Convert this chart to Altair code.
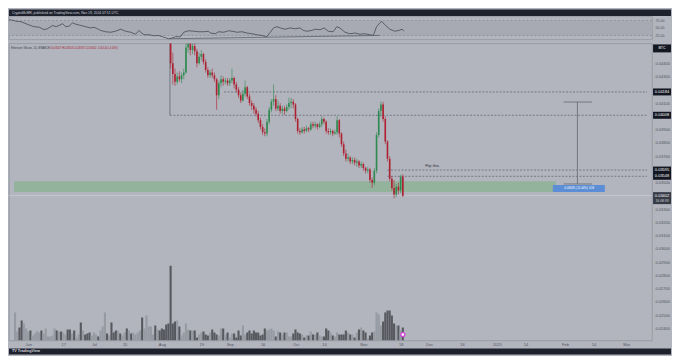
import altair as alt
import pandas as pd

# ---------------- data ----------------
# Daily ETH/BTC candles, first candle = 2024-08-01 (day 61 after 2024-06-01)
candle_start_day = 61
first_open = 0.0520
closes = [0.0505, 0.0490, 0.0475, 0.0462, 0.0440, 0.0432, 0.0426, 0.0430, 0.0428, 0.0431,
          0.0433, 0.0452, 0.0455, 0.0450, 0.0453, 0.0449, 0.0440, 0.0445, 0.0447, 0.0441,
          0.0435, 0.0431, 0.0433, 0.0431, 0.0428, 0.0416, 0.0425, 0.0428, 0.0426, 0.0427,
          0.0425, 0.0427, 0.0429, 0.0424, 0.0420, 0.0416, 0.0412, 0.0417, 0.0422, 0.0415,
          0.0410, 0.0408, 0.0405, 0.0402, 0.0397, 0.0392, 0.0388, 0.0387, 0.0396, 0.0405,
          0.0411, 0.0413, 0.0406, 0.0408, 0.0404, 0.0406, 0.0404, 0.0407, 0.0410, 0.0411,
          0.0409, 0.0398, 0.0389, 0.0388, 0.0390, 0.0389, 0.0391, 0.0390, 0.0394, 0.0393,
          0.0394, 0.0392, 0.0394, 0.0398, 0.0396, 0.0389, 0.0388, 0.0389, 0.0387, 0.0388,
          0.0397, 0.0387, 0.0379, 0.0372, 0.0368, 0.0369, 0.0366, 0.0367, 0.0365, 0.0366,
          0.0363, 0.0364, 0.0361, 0.0359, 0.0360, 0.0352, 0.0350, 0.0359, 0.0386, 0.0404,
          0.0409, 0.0398, 0.0381, 0.0368, 0.0353, 0.0346, 0.0341, 0.0347, 0.0344, 0.03546,
          0.03402]
highs = [0.0525, 0.0508, 0.0493, 0.0478, 0.0466, 0.0448, 0.0436, 0.0433, 0.0434, 0.0433,
         0.0436, 0.0456, 0.0462, 0.0460, 0.0458, 0.0456, 0.0451, 0.0448, 0.0450, 0.0448,
         0.0443, 0.0437, 0.0435, 0.0436, 0.0433, 0.0429, 0.0427, 0.0431, 0.0430, 0.0429,
         0.0429, 0.0429, 0.0436, 0.0430, 0.0426, 0.0422, 0.0418, 0.0420, 0.0427, 0.0423,
         0.0417, 0.0412, 0.0410, 0.0407, 0.0404, 0.0399, 0.0394, 0.0391, 0.0398, 0.0407,
         0.0413, 0.0424, 0.0416, 0.0412, 0.0410, 0.0408, 0.0408, 0.0409, 0.0414, 0.0414,
         0.0413, 0.0410, 0.0399, 0.0391, 0.0392, 0.0392, 0.0393, 0.0392, 0.0396, 0.0396,
         0.0396, 0.0395, 0.0396, 0.0400, 0.0399, 0.0397, 0.0391, 0.0391, 0.0390, 0.0390,
         0.0400, 0.0398, 0.0388, 0.0381, 0.0375, 0.0372, 0.0370, 0.0369, 0.0369, 0.0368,
         0.0367, 0.0366, 0.0365, 0.0362, 0.0362, 0.0361, 0.0354, 0.0361, 0.0388, 0.0406,
         0.0411, 0.0411, 0.0400, 0.0382, 0.0370, 0.0355, 0.0352, 0.0349, 0.0350, 0.0356,
         0.03563]
lows = [0.0500, 0.0486, 0.0470, 0.0458, 0.0436, 0.0424, 0.0423, 0.0424, 0.0426, 0.0425,
        0.0428, 0.0432, 0.0448, 0.0446, 0.0447, 0.0446, 0.0437, 0.0439, 0.0442, 0.0439,
        0.0433, 0.0429, 0.0429, 0.0429, 0.0426, 0.0405, 0.0413, 0.0422, 0.0423, 0.0424,
        0.0423, 0.0423, 0.0425, 0.0421, 0.0418, 0.0414, 0.0410, 0.0411, 0.0415, 0.0413,
        0.0408, 0.0405, 0.0402, 0.0400, 0.0395, 0.0390, 0.0386, 0.0385, 0.0385, 0.0394,
        0.0403, 0.0408, 0.0404, 0.0404, 0.0402, 0.0402, 0.0401, 0.0403, 0.0405, 0.0406,
        0.0406, 0.0396, 0.0387, 0.0386, 0.0387, 0.0387, 0.0388, 0.0388, 0.0389, 0.0391,
        0.0391, 0.0390, 0.0391, 0.0392, 0.0394, 0.0387, 0.0386, 0.0386, 0.0385, 0.0386,
        0.0386, 0.0384, 0.0377, 0.0370, 0.0366, 0.0366, 0.0364, 0.0364, 0.0363, 0.0362,
        0.0361, 0.0361, 0.0359, 0.0357, 0.0357, 0.0350, 0.0346, 0.0348, 0.0357, 0.0384,
        0.0400, 0.0396, 0.0379, 0.0366, 0.0351, 0.0344, 0.0338, 0.0339, 0.0341, 0.0342,
        0.03392]

# Daily volume (relative units), first bar = day -6 (2024-05-26), last = 2024-11-19
volume_start_day = -6
volumes = [28, 9, 13, 20, 17, 12, 9, 10, 5, 7,
           9, 8, 10, 7, 12, 4, 4, 5, 12, 10,
           9, 9, 8, 6, 11, 11, 7, 10, 3, 6,
           18, 10, 6, 7, 8, 5, 8, 6, 4, 10,
           14, 28, 7, 5, 18, 8, 10, 10, 7, 5,
           8, 12, 10, 7, 8, 6, 8, 10, 23, 12,
           25, 14, 14, 6, 15, 11, 10, 12, 11, 16,
           17, 75, 17, 19, 20, 14, 5, 8, 17, 11,
           10, 10, 10, 3, 6, 8, 9, 6, 5, 8,
           11, 8, 6, 5, 12, 12, 6, 8, 3, 7,
           7, 3, 10, 5, 15, 6, 8, 10, 7, 10,
           8, 8, 5, 6, 12, 10, 11, 12, 10, 4,
           9, 8, 6, 8, 8, 4, 4, 7, 11, 8,
           7, 6, 3, 5, 5, 9, 6, 6, 8, 5, 4,
           4, 12, 10, 8, 5, 4, 8, 6, 6, 6,
           10, 8, 6, 6, 3, 8, 11, 13, 10, 8,
           2, 5, 8, 9, 28, 26, 15, 19, 28, 30,
           30, 25, 17, 15, 15, 10, 13]
# up / down days before the visible candles (u = up, d = down)
volume_dir_before = ("uudduuuduu" "uuduuuuuud" "uduudduduu" "duddduuudu"
                     "uududddudu" "ududuuuudu" "uuuudud")

# RSI (days after 2024-06-01, value)
rsi_days = [-8.6, -7.1, -4.8, -3.4, -1.1, 1.1, 3.4, 4.8, 7.1, 9.3,
            10.8, 13.1, 14.6, 16.0, 17.6, 19.0, 20.5, 22.0, 23.5, 25.8,
            28.0, 30.2, 31.7, 33.2, 34.7, 36.9, 39.2, 41.4, 43.7, 45.9,
            48.2, 50.4, 51.9, 54.1, 56.4, 58.6, 60.8, 63.1, 65.3, 66.8,
            68.3, 70.6, 72.0, 74.3, 76.5, 78.8, 81.0, 83.2,
            84.0, 86.2, 87.7, 90.0, 92.2, 93.7, 96.0, 98.2, 100.4, 102.7,
            104.9, 107.2, 109.4, 110.9, 112.4, 113.9, 115.4, 117.6, 119.8, 122.1,
            124.3, 125.8, 127.3, 129.6, 131.1, 133.3, 135.1, 137.0, 139.2, 140.8,
            142.2, 144.5, 146.7, 149.0, 151.2, 153.4, 155.7, 157.2, 158.7, 160.9,
            162.4, 164.6, 166.9, 168.7, 170.2, 171.0]
rsi_vals = [75.8, 77.5, 75.8, 72.5, 70.8, 64.2, 57.5, 54.2, 52.5, 44.2,
            47.5, 58.3, 54.2, 58.3, 64.2, 54.2, 55.8, 66.7, 62.5, 58.3,
            54.2, 50.0, 52.5, 47.5, 41.7, 37.5, 35.8, 39.2, 45.8, 39.2,
            35.8, 29.2, 41.7, 27.5, 27.5, 24.2, 25.0, 19.2, 14.2, 16.7,
            20.8, 20.8, 35.8, 40.8, 39.2, 37.5, 37.5, 39.2,
            33.3, 30.8, 37.5, 35.8, 40.8, 39.2, 35.8, 37.5, 33.3, 30.8,
            27.5, 25.0, 20.8, 35.8, 50.0, 54.2, 50.0, 45.8, 50.0, 47.5,
            50.0, 41.7, 39.2, 41.7, 45.8, 44.2, 50.0, 39.2, 37.5, 54.2,
            50.0, 35.8, 30.8, 33.3, 29.2, 30.8, 27.5, 25.0, 54.2, 72.5,
            60.8, 45.8, 39.2, 41.7, 45.8, 39.2]
rsi_trend_days = [65.3, 160.0]
rsi_trend_vals = [14.2, 25.2]
rsi_levels = [25, 75]
rsi_ticks = [25, 50, 75]

# drawings
level_prices = [0.04184, 0.04008, 0.03595, 0.03548]
level_start_days = [89.4, 64.7, 164.0, 164.0]
box_line_day = 64.7
zone_low, zone_high, zone_end_day = 0.0343, 0.03511, 240.8
measure_day, measure_top, measure_bottom = 250.7, 0.04108, 0.03490
measure_cap_days = [244.4, 257.4]
measure_box_days = [239.5, 263.2]
measure_box_prices = [0.03430, 0.03483]
measure_text = "-0.00618 (-15.04%) -618"
note_day, note_price, note_text = 181.2, 0.03622, "Flip this."
last_close = 0.03402
countdown = "16:08:39"

price_ticks = [0.044, 0.043, 0.041, 0.039, 0.038, 0.037, 0.035, 0.033, 0.032,
               0.031, 0.030, 0.029, 0.028, 0.027, 0.026, 0.025, 0.024]
time_ticks = ["2024-06-01", "2024-06-17", "2024-07-01", "2024-07-15", "2024-08-01",
              "2024-08-19", "2024-09-01", "2024-09-16", "2024-10-01", "2024-10-14",
              "2024-11-01", "2024-11-18", "2024-12-01", "2024-12-16", "2025-01-01",
              "2025-01-14", "2025-02-01", "2025-02-14", "2025-03-01"]

title_text = "CryptoMcMR, published on TradingView.com, Nov 19, 2024 07:51 UTC"
legend_name = "Ethereum / Bitcoin, 1D, BINANCE"
legend_ohlc = "O0.03547 H0.03563 L0.03392 C0.03402 -0.00144 (-4.06%)"

# ---------------- helpers ----------------
BASE = pd.Timestamp("2024-06-01", tz="UTC")


def tstamp(d):
    return BASE + pd.Timedelta(days=float(d))


def iso(d):
    return tstamp(d).strftime("%Y-%m-%dT%H:%M:%SZ")


def ms(d):
    return int(tstamp(d).timestamp() * 1000)


W, H_MAIN, H_RSI = 645, 298, 23
FONT = "Liberation Sans"
BG = "#b2b5be"
DARK = "#1e222d"
GREEN, RED = "#2f8a4f", "#ad2131"
AXC = "#4f525b"

X_START, X_END = -6.5, 282.5
XS = alt.Scale(type="utc", domain=[ms(X_START), ms(X_END)], nice=False)
tick_ms = [int(pd.Timestamp(s, tz="UTC").timestamp() * 1000) for s in time_ticks]
label_expr = ("utcdate(datum.value) == 1 ? (utcmonth(datum.value) == 0 ? "
              "utcFormat(datum.value, '%Y') : utcFormat(datum.value, '%b')) : "
              "utcFormat(datum.value, '%-d')")
XAX = alt.Axis(values=tick_ms, labelExpr=label_expr, ticks=False, domain=False,
               grid=False, labelFontSize=4, labelColor=AXC, labelPadding=2,
               labelFont=FONT, labelOverlap=False, labelFlush=False, title=None)


def XT(f):
    return alt.X(f, type="temporal", scale=XS, axis=XAX)


def XR(f):
    return alt.X(f, type="temporal", scale=XS, axis=None)


PS = alt.Scale(domain=[0.0455 - H_MAIN / 13300.0, 0.0455], nice=False, zero=False)
PAX = alt.Axis(orient="right", values=price_ticks, format=".5f", ticks=False,
               domain=False, grid=False, labelFontSize=4, labelColor=AXC,
               labelPadding=3, labelFont=FONT, title=None)


def YP(f):
    return alt.Y(f, type="quantitative", scale=PS, axis=PAX)


RS = alt.Scale(domain=[12, 88], nice=False, zero=False)
RAX = alt.Axis(orient="right", values=rsi_ticks, format=".2f", ticks=False,
               domain=False, grid=False, labelFontSize=3.6, labelColor=AXC,
               labelPadding=3, labelFont=FONT, title=None)


def YR(f):
    return alt.Y(f, type="quantitative", scale=RS, axis=RAX)


one = pd.DataFrame({"k": [0]})

# ---------------- tables ----------------
n = len(closes)
opens = [first_open] + closes[:-1]
cdf = pd.DataFrame({
    "date": [iso(candle_start_day + i) for i in range(n)],
    "o": opens, "h": highs, "l": lows, "c": closes,
})
cdf["dir"] = ["up" if c >= o else "down" for o, c in zip(opens, closes)]
dir_by_day = {candle_start_day + i: d for i, d in enumerate(cdf["dir"])}

vdays = [volume_start_day + i for i in range(len(volumes))]
vdir = []
for i, d in enumerate(vdays):
    if d in dir_by_day:
        vdir.append(dir_by_day[d])
    else:
        vdir.append("down" if volume_dir_before[i] == "d" else "up")
vdf = pd.DataFrame({"date": [iso(d) for d in vdays], "v": volumes, "dir": vdir})

rdf = pd.DataFrame({"date": [iso(d) for d in rsi_days], "rsi": rsi_vals})
rtdf = pd.DataFrame({"date": [iso(d) for d in rsi_trend_days], "rsi": rsi_trend_vals})

# ---------------- RSI pane ----------------
rsi_band = alt.Chart(pd.DataFrame({"lo": [25], "hi": [75]})).mark_rect(color="#a7aab3").encode(
    x=alt.value(0), x2=alt.value(W), y=YR("lo"), y2="hi")
rsi_rules = alt.Chart(pd.DataFrame({"lvl": rsi_levels})).mark_rule(
    color="#7b7e88", strokeWidth=0.6, strokeDash=[2, 2]).encode(y=YR("lvl"))
rsi_line = alt.Chart(rdf).mark_line(color="#474a53", strokeWidth=0.8, clip=True).encode(
    x=XR("date"), y=YR("rsi"))
rsi_trend = alt.Chart(rtdf).mark_line(color="#5c5f69", strokeWidth=0.8, clip=True).encode(
    x=XR("date"), y=YR("rsi"))
top_bar = alt.Chart(one).mark_rect(color=DARK).encode(
    x=alt.value(0), x2=alt.value(W + 19), y=alt.value(-7), y2=alt.value(-0.5))
top_text = alt.Chart(one).mark_text(align="left", baseline="middle", color="#d1d4dc",
                                     fontSize=3.4, font=FONT).encode(
    x=alt.value(3), y=alt.value(-3.7), text=alt.value(title_text))

rsi_chart = alt.layer(rsi_band, rsi_rules, rsi_line, rsi_trend, top_bar, top_text).properties(
    width=W, height=H_RSI)

# ---------------- main pane ----------------
vol = alt.Chart(vdf).mark_bar(size=2.1, clip=True).encode(
    x=XT("date"),
    y=alt.Y("v:Q", scale=alt.Scale(domain=[0, H_MAIN], nice=False), axis=None),
    color=alt.Color("dir:N", scale=alt.Scale(domain=["up", "down"], range=["#969aa3", "#57595f"]),
                    legend=None))

zone = alt.Chart(pd.DataFrame({"x0": [iso(X_START)], "x1": [iso(zone_end_day)],
                               "lo": [zone_low], "hi": [zone_high]})).mark_rect(
    color="#4caf50", opacity=0.31, clip=True).encode(x=XT("x0"), x2="x1", y=YP("lo"), y2="hi")

close_line = alt.Chart(pd.DataFrame({"p": [last_close]})).mark_rule(
    color="#cdd0d6", strokeWidth=0.7).encode(y=YP("p"))

lev = alt.Chart(pd.DataFrame({"x0": [iso(d) for d in level_start_days],
                              "x1": [iso(X_END)] * len(level_prices),
                              "p": level_prices})).mark_rule(
    color="#5b5e68", strokeWidth=0.7, strokeDash=[2, 1.5], clip=True).encode(
    x=XT("x0"), x2="x1", y=YP("p"))

vline = alt.Chart(pd.DataFrame({"x": [iso(box_line_day)], "p0": [level_prices[1]],
                                "p1": [0.0455]})).mark_rule(
    color="#62656f", strokeWidth=0.8, clip=True).encode(x=XT("x"), y=YP("p0"), y2="p1")

ccol = alt.Color("dir:N", scale=alt.Scale(domain=["up", "down"], range=[GREEN, RED]), legend=None)
wicks = alt.Chart(cdf).mark_rule(strokeWidth=0.6, clip=True).encode(
    x=XT("date"), y=YP("l"), y2="h", color=ccol)
bodies = alt.Chart(cdf).mark_bar(size=1.6, clip=True).encode(
    x=XT("date"), y=YP("o"), y2="c", color=ccol)

m_vert = alt.Chart(pd.DataFrame({"x": [iso(measure_day)], "p0": [measure_bottom],
                                 "p1": [measure_top]})).mark_rule(
    color="#6d707a", strokeWidth=0.9).encode(x=XT("x"), y=YP("p0"), y2="p1")
m_caps = alt.Chart(pd.DataFrame({"x0": [iso(measure_cap_days[0])] * 2,
                                 "x1": [iso(measure_cap_days[1])] * 2,
                                 "p": [measure_top, measure_bottom]})).mark_rule(
    color="#6d707a", strokeWidth=0.9).encode(x=XT("x0"), x2="x1", y=YP("p"))
m_box = alt.Chart(pd.DataFrame({"x0": [iso(measure_box_days[0])], "x1": [iso(measure_box_days[1])],
                                "lo": [measure_box_prices[0]], "hi": [measure_box_prices[1]]})).mark_rect(
    color="#5b8ed6").encode(x=XT("x0"), x2="x1", y=YP("lo"), y2="hi")
m_text = alt.Chart(pd.DataFrame({"x": [iso(sum(measure_box_days) / 2)],
                                 "p": [sum(measure_box_prices) / 2],
                                 "t": [measure_text]})).mark_text(
    color="white", fontSize=2.8, font=FONT, baseline="middle").encode(
    x=XT("x"), y=YP("p"), text="t:N")

note = alt.Chart(pd.DataFrame({"x": [iso(note_day)], "p": [note_price], "t": [note_text]})).mark_text(
    align="left", baseline="middle", color="#2c2f37", fontSize=4, font=FONT).encode(
    x=XT("x"), y=YP("p"), text="t:N")

hl_df = pd.DataFrame({"p": level_prices, "t": [f"{v:.5f}" for v in level_prices]})
hl_box = alt.Chart(hl_df).mark_rect(color="#131722", yOffset=-3.5, y2Offset=3.5).encode(
    x=alt.value(W + 1), x2=alt.value(W + 19), y=YP("p"), y2="p")
hl_txt = alt.Chart(hl_df).mark_text(color="white", fontSize=4, font=FONT, baseline="middle").encode(
    x=alt.value(W + 10), y=YP("p"), text="t:N")

lc_df = pd.DataFrame({"p": [last_close], "t": [f"{last_close:.5f}"], "cd": [countdown]})
lc_box = alt.Chart(lc_df).mark_rect(color="#363a45", yOffset=-3.5, y2Offset=8.5).encode(
    x=alt.value(W + 1), x2=alt.value(W + 19), y=YP("p"), y2="p")
lc_txt = alt.Chart(lc_df).mark_text(color="white", fontSize=4, font=FONT, baseline="middle").encode(
    x=alt.value(W + 10), y=YP("p"), text="t:N")
lc_cd = alt.Chart(lc_df).mark_text(color="#d1d4dc", fontSize=3.4, font=FONT, baseline="middle",
                                   dy=5).encode(x=alt.value(W + 10), y=YP("p"), text="cd:N")

btc_box = alt.Chart(one).mark_rect(color="#131722").encode(
    x=alt.value(W + 1), x2=alt.value(W + 19), y=alt.value(1), y2=alt.value(9))
btc_txt = alt.Chart(one).mark_text(color="white", fontSize=3.6, font=FONT, baseline="middle").encode(
    x=alt.value(W + 10), y=alt.value(5), text=alt.value("BTC"))

leg1 = alt.Chart(one).mark_text(align="left", baseline="middle", color="#3b3e47",
                                fontSize=2.6, font=FONT).encode(
    x=alt.value(2), y=alt.value(4.5), text=alt.value(legend_name))
leg2 = alt.Chart(one).mark_text(align="left", baseline="middle", color=RED,
                                fontSize=2.6, font=FONT).encode(
    x=alt.value(41), y=alt.value(4.5), text=alt.value(legend_ohlc))

marker = alt.Chart(pd.DataFrame({"x": [iso(candle_start_day + n - 1)]})).mark_point(
    shape="circle", filled=True, fill="white", stroke="#d63fd6", strokeWidth=1.3,
    size=16, opacity=1).encode(x=XT("x"), y=alt.value(H_MAIN - 6))

bottom_bar = alt.Chart(one).mark_rect(color=DARK).encode(
    x=alt.value(0), x2=alt.value(W + 19), y=alt.value(H_MAIN + 8), y2=alt.value(H_MAIN + 14))
bottom_text = alt.Chart(one).mark_text(align="left", baseline="middle", color="#d1d4dc",
                                       fontSize=3.8, font=FONT, fontWeight="bold").encode(
    x=alt.value(3), y=alt.value(H_MAIN + 11), text=alt.value("TV TradingView"))

price_group = alt.layer(zone, close_line, lev, vline, wicks, bodies, m_vert, m_caps, m_box,
                        m_text, note, hl_box, hl_txt, lc_box, lc_txt, lc_cd, btc_box, btc_txt,
                        leg1, leg2, marker, bottom_bar, bottom_text)

main_chart = alt.layer(vol, price_group).resolve_scale(y="independent", color="independent").properties(
    width=W, height=H_MAIN)

chart = alt.vconcat(rsi_chart, main_chart, spacing=2).properties(
    padding=0, background=BG
).configure_view(stroke="#8e919a", strokeWidth=0.7)

chart.save("out.html", embed_options={"renderer": "svg", "actions": False})
